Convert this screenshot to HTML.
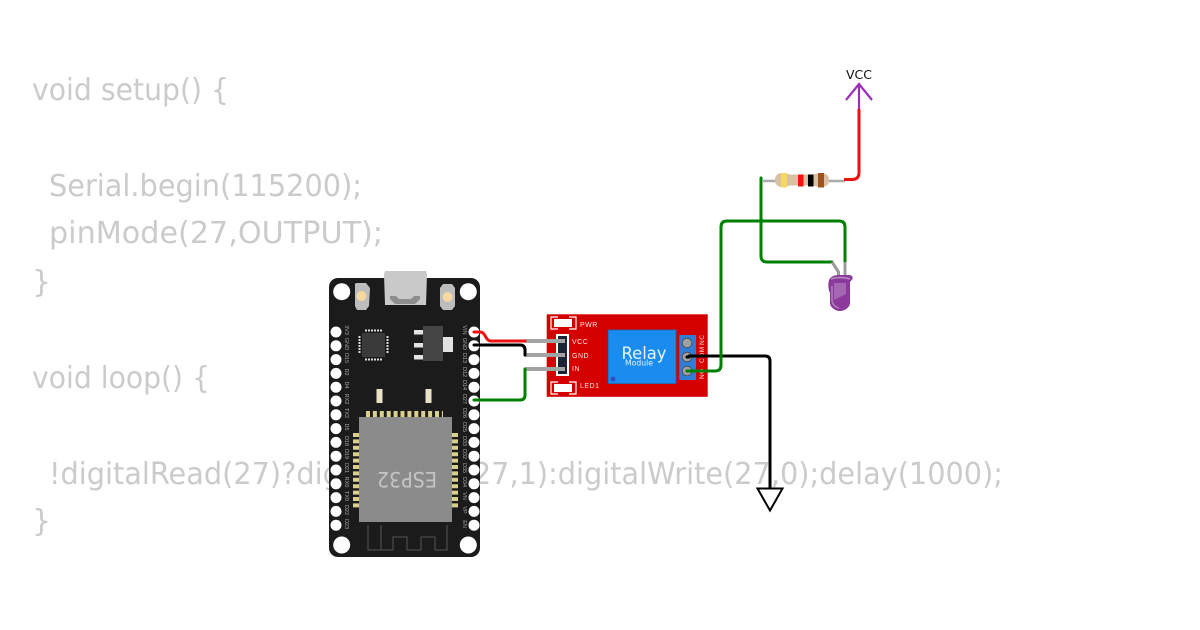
<!DOCTYPE html>
<html><head><meta charset="utf-8"><style>
html,body{margin:0;padding:0;background:#fff;width:1200px;height:630px;overflow:hidden}
svg{display:block}
.c{font-family:"DejaVu Sans",sans-serif;font-size:30px;fill:#cbcbcb}
.l{font-family:"Liberation Sans",sans-serif;font-size:5.5px;fill:#a8a8a8;text-anchor:middle}
.r{font-family:"Liberation Sans",sans-serif;font-size:7px;fill:#ffe4e4;letter-spacing:.5px}
</style></head><body>
<svg width="1200" height="630" viewBox="0 0 1200 630" xmlns="http://www.w3.org/2000/svg">
<rect width="1200" height="630" fill="#fff"/>
<text class="c" x="32" y="100" textLength="197" lengthAdjust="spacingAndGlyphs">void setup() {</text>
<text class="c" x="49" y="196" textLength="313" lengthAdjust="spacingAndGlyphs">Serial.begin(115200);</text>
<text class="c" x="49" y="243" textLength="334" lengthAdjust="spacingAndGlyphs">pinMode(27,OUTPUT);</text>
<text class="c" x="32" y="292">}</text>
<text class="c" x="32" y="388" textLength="178" lengthAdjust="spacingAndGlyphs">void loop() {</text>
<text class="c" x="49" y="484" textLength="954" lengthAdjust="spacingAndGlyphs">!digitalRead(27)?digitalWrite(27,1):digitalWrite(27,0);delay(1000);</text>
<text class="c" x="32" y="531">}</text>

<!-- ESP32 board -->
<rect x="329" y="278" width="151" height="279" rx="9" fill="#1b1b1b"/>
<path d="M385 271h41l1 3-1 31h-41l-1-31z" fill="#c9c9c9"/>
<path d="M390 296h6l3 3h12l3-3h6v3l-5 5h-20l-5-5z" fill="#8d8d8d"/>
<path d="M356 283h10l4 5-1 18-3 4h-9l-2-4v-22z" fill="#bdbdbd"/><circle cx="361.500" cy="296" r="5" fill="#f5d9a0"/>
<path d="M443 284h9l3 4v18l-3 4h-9l-3-4v-18z" fill="#bdbdbd"/><circle cx="447.500" cy="297" r="5" fill="#f5d9a0"/>
<g fill="#fff">
<circle cx="341.700" cy="291.700" r="8.500"/><circle cx="468.300" cy="291.700" r="8.500"/>
<circle cx="341.700" cy="545" r="8.500"/><circle cx="468.300" cy="545" r="8.500"/>
<circle cx="336" cy="332" r="5.500"/><circle cx="336" cy="345.800" r="5.500"/><circle cx="336" cy="359.600" r="5.500"/><circle cx="336" cy="373.400" r="5.500"/><circle cx="336" cy="387.200" r="5.500"/><circle cx="336" cy="401" r="5.500"/><circle cx="336" cy="414.800" r="5.500"/><circle cx="336" cy="428.600" r="5.500"/><circle cx="336" cy="442.400" r="5.500"/><circle cx="336" cy="456.200" r="5.500"/><circle cx="336" cy="470" r="5.500"/><circle cx="336" cy="483.800" r="5.500"/><circle cx="336" cy="497.600" r="5.500"/><circle cx="336" cy="511.400" r="5.500"/><circle cx="336" cy="525.200" r="5.500"/>
<circle cx="474" cy="332" r="5.500"/><circle cx="474" cy="345.800" r="5.500"/><circle cx="474" cy="359.600" r="5.500"/><circle cx="474" cy="373.400" r="5.500"/><circle cx="474" cy="387.200" r="5.500"/><circle cx="474" cy="401" r="5.500"/><circle cx="474" cy="414.800" r="5.500"/><circle cx="474" cy="428.600" r="5.500"/><circle cx="474" cy="442.400" r="5.500"/><circle cx="474" cy="456.200" r="5.500"/><circle cx="474" cy="470" r="5.500"/><circle cx="474" cy="483.800" r="5.500"/><circle cx="474" cy="497.600" r="5.500"/><circle cx="474" cy="511.400" r="5.500"/><circle cx="474" cy="525.200" r="5.500"/>
</g>
<g>
<text class="l" transform="translate(345,330) rotate(90)">3V3</text><text class="l" transform="translate(345,344) rotate(90)">GND</text><text class="l" transform="translate(345,358) rotate(90)">D15</text><text class="l" transform="translate(345,372) rotate(90)">D2</text><text class="l" transform="translate(345,385) rotate(90)">D4</text><text class="l" transform="translate(345,399) rotate(90)">RX2</text><text class="l" transform="translate(345,413) rotate(90)">TX2</text><text class="l" transform="translate(345,427) rotate(90)">D5</text><text class="l" transform="translate(345,441) rotate(90)">D18</text><text class="l" transform="translate(345,454) rotate(90)">D19</text><text class="l" transform="translate(345,468) rotate(90)">D21</text><text class="l" transform="translate(345,482) rotate(90)">RX0</text><text class="l" transform="translate(345,496) rotate(90)">TX0</text><text class="l" transform="translate(345,510) rotate(90)">D22</text><text class="l" transform="translate(345,524) rotate(90)">D23</text>
<text class="l" transform="translate(463,330) rotate(90)">VIN</text><text class="l" transform="translate(463,344) rotate(90)">GND</text><text class="l" transform="translate(463,358) rotate(90)">D13</text><text class="l" transform="translate(463,372) rotate(90)">D12</text><text class="l" transform="translate(463,385) rotate(90)">D14</text><text class="l" transform="translate(463,399) rotate(90)">D27</text><text class="l" transform="translate(463,413) rotate(90)">D26</text><text class="l" transform="translate(463,427) rotate(90)">D25</text><text class="l" transform="translate(463,441) rotate(90)">D33</text><text class="l" transform="translate(463,454) rotate(90)">D32</text><text class="l" transform="translate(463,468) rotate(90)">D35</text><text class="l" transform="translate(463,482) rotate(90)">D34</text><text class="l" transform="translate(463,496) rotate(90)">VN</text><text class="l" transform="translate(463,510) rotate(90)">VP</text><text class="l" transform="translate(463,524) rotate(90)">EN</text>
</g>
<rect x="362" y="333" width="23" height="24" fill="#3a3a3a"/>
<path d="M365 330.500h17M365 359.500h17" stroke="#ddd" stroke-width="2" stroke-dasharray="2 1"/>
<path d="M359.500 336v18M387.500 336v18" stroke="#ddd" stroke-width="2" stroke-dasharray="2 1"/>
<rect x="423" y="326" width="20" height="35" fill="#454545"/>
<rect x="443" y="337" width="10" height="15" fill="#e2e2e2"/>
<rect x="414" y="330" width="9" height="4.500" fill="#e2e2e2"/><rect x="414" y="343" width="9" height="4.500" fill="#e2e2e2"/><rect x="414" y="355" width="9" height="4.500" fill="#e2e2e2"/>
<rect x="376.500" y="389" width="6" height="14" fill="#e8e2c8"/><rect x="425.500" y="389" width="6" height="14" fill="#e8e2c8"/>
<path d="M366 414h77" stroke="#d8d08c" stroke-width="6" stroke-dasharray="4 2.900"/>
<path d="M356 433v76M455 433v76" stroke="#d8d08c" stroke-width="6" stroke-dasharray="4 2.400"/>
<rect x="359" y="417" width="93" height="105" fill="#8b8b8b"/>
<text transform="translate(407,479) rotate(180)" text-anchor="middle" font-family="DejaVu Sans,sans-serif" font-size="21" fill="#c4c4c4" dominant-baseline="central" textLength="60" lengthAdjust="spacingAndGlyphs">ESP32</text>
<path d="M368 525V550H381V525M381 550H393V537H407V550H421V537H435V550H447V525" fill="none" stroke="#555" stroke-width="1"/>

<!-- Relay -->
<rect x="546.700" y="314.300" width="161" height="82.500" fill="#d40000"/>
<g fill="none" stroke="#fff" stroke-width="1.200">
<path d="M558 317h-7v12h7M569 317h7v12h-7"/><path d="M558 382h-7v12h7M569 382h7v12h-7"/>
</g>
<rect x="554" y="319" width="18" height="8" fill="#fff"/><rect x="554" y="384" width="18" height="8" fill="#fff"/>
<text class="r" x="580" y="327">PWR</text>
<text class="r" x="580" y="388">LED1</text>
<text class="r" x="572" y="344">VCC</text><text class="r" x="572" y="358">GND</text><text class="r" x="572" y="371">IN</text>
<rect x="556" y="334" width="13" height="42" fill="#fff"/>
<rect x="558" y="336" width="9" height="38" fill="#1c2535"/>
<rect x="608.300" y="330" width="67.700" height="53.500" fill="#1a8cf0" stroke="#1670c0" stroke-width=".8"/>
<circle cx="613" cy="379" r="2.500" fill="#3050c0"/>
<text x="644" y="359" text-anchor="middle" font-family="DejaVu Sans,sans-serif" font-size="17" fill="#e8f4ff" textLength="45" lengthAdjust="spacingAndGlyphs">Relay</text>
<text x="639" y="365.500" text-anchor="middle" font-family="DejaVu Sans,sans-serif" font-size="7.500" fill="#e8f4ff" textLength="28" lengthAdjust="spacingAndGlyphs">Module</text>
<rect x="679.300" y="335" width="16.700" height="45" fill="#2e7ed8"/>
<circle cx="687" cy="343" r="4.800" fill="#a0a0a0" stroke="#444" stroke-width=".8"/>
<circle cx="687" cy="357" r="4.800" fill="#a0a0a0" stroke="#444" stroke-width=".8"/>
<circle cx="687" cy="371" r="4.800" fill="#a0a0a0" stroke="#444" stroke-width=".8"/>
<text class="r" transform="translate(704,379) rotate(-90)" style="font-size:6.500px">NO</text>
<text class="r" transform="translate(704,363) rotate(-90)" style="font-size:6.500px">COM</text>
<text class="r" transform="translate(704,345) rotate(-90)" style="font-size:6.500px">NC</text>
<g stroke="#a3a3a3" stroke-width="4"><path d="M525 341h40M525 355h40M525 369h40"/></g>

<!-- Wires -->
<g fill="none" stroke-width="3" stroke-linecap="round" stroke-linejoin="round">
<path d="M474 332h6c6 0 5 9 11 9h34" stroke="#ee1111"/>
<path d="M474 345h46q5 0 5 5v5" stroke="#000"/>
<path d="M474 400h46q5 0 5-5v-26" stroke="#008000"/>
<path d="M687 357h2v-1h76q5 0 5 5v127" stroke="#000"/>
<path d="M687 371h28q6 0 6-6V227q0-6 6-6h112q6 0 6 6v35" stroke="#008000"/>
<path d="M761 178v78q0 6 6 6h65" stroke="#008000"/>
</g>
<path d="M832 262l6.500 10v5M845 262v15" fill="none" stroke="#9a9a9a" stroke-width="3"/>

<!-- LED -->
<path d="M829 280c2-4 6-5 11-5h9c3 0 4 2 3.500 4l-2.500 3v21c0 4-5 8-10 8s-10-4-10-8v-10c-2-4-2-9-1-13z" fill="#8b3a9c"/>
<path d="M834 283h12v11l-12 6z" fill="#a566b2"/>
<path d="M832 286v14c0 4 3 7 7 8" stroke="#b27fbd" stroke-width="1.500" fill="none"/>
<path d="M831 279c5-2 13-2 19 0" stroke="#b98cc2" stroke-width="1.500" fill="none"/>

<!-- Resistor -->
<path d="M762 181h83" stroke="#aaa" stroke-width="2.500"/>
<path d="M775 180c0-5 3-7 8-7 3 0 4 1 7 1.500h23c3-.5 5-1.500 8-1.500 5 0 8 2 8 7s-3 7-8 7c-3 0-5-1-8-1.500h-23c-3 .5-4 1.500-7 1.500-5 0-8-2-8-7z" fill="#d9c0a2"/>
<rect x="781" y="173" width="6" height="14.500" fill="#f4d860"/>
<rect x="798" y="174.500" width="5.500" height="12" fill="#ff1010"/>
<rect x="808" y="174.500" width="5.500" height="12" fill="#000"/>
<rect x="818" y="173" width="6" height="14.500" fill="#a0521c"/>
<path d="M844 179.500h8q7 0 7-7V109" fill="none" stroke="#ee1111" stroke-width="3"/>

<!-- VCC -->
<path d="M859 109V84M846 100l13-16 13 16" fill="none" stroke="#9a30b8" stroke-width="2.200"/>
<text x="859" y="79" text-anchor="middle" font-family="DejaVu Sans,sans-serif" font-size="12.500" fill="#111">VCC</text>

<!-- GND -->
<path d="M757.500 488.500h25l-12.500 22z" fill="#fff" stroke="#000" stroke-width="2"/>
</svg>
</body></html>
